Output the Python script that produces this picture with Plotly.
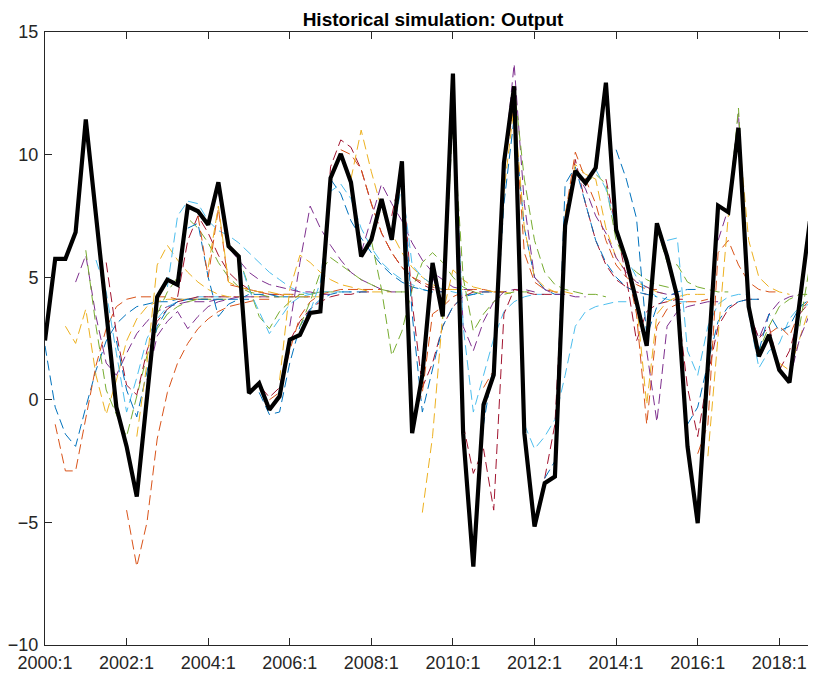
import plotly.graph_objects as go

# quarterly index: 0 = 2000:1, 1 = 2000:2, ...
tick_pos = [0, 8, 16, 24, 32, 40, 48, 56, 64, 72]
tick_txt = ["2000:1", "2002:1", "2004:1", "2006:1", "2008:1",
            "2010:1", "2012:1", "2014:1", "2016:1", "2018:1"]
y_ticks = [-10, -5, 0, 5, 10, 15]

# historical output (black line), 2000:1 .. 2019:1
output = [2.42, 5.75, 5.75, 6.83, 11.43, 7.6, 3.7, -0.3, -1.9, -3.95,
          0.1, 4.2, 4.9, 4.69, 7.89, 7.69, 7.14, 8.87, 6.26, 5.85,
          0.27, 0.68, -0.41, 0.14, 2.45, 2.65, 3.54, 3.6, 9.05, 10.03,
          8.87, 5.85, 6.53, 8.19, 6.53, 9.73, -1.36, 1.02, 5.58, 3.4,
          13.3, -1.36, -6.8, -0.2, 1.02, 9.66, 12.79, -1.36, -5.17, -3.4,
          -3.13, 7.1, 9.34, 8.84, 9.46, 12.93, 6.94, 5.7, 4.0, 2.2,
          7.2, 5.85, 4.2, -1.9, -5.03, 1.6, 7.92, 7.65, 11.09, 3.8,
          1.77, 2.65, 1.22, 0.71, 3.9, 7.28, 4.6]

# simulated paths, named by the quarter they start in
s00 = [2.2, -0.3, -1.4, -1.9, -0.3, 1.2, 2.4, 3.1, 3.5, 3.8, 3.9, 4.0, 4.0, 4.1, 4.1, 4.1]
s01 = [-1.0, -2.9, -2.9, -0.8, 1.4, 2.9, 3.8, 4.1, 4.2, 4.2, 4.2, 4.2, 4.1, 4.1, 4.1, 4.1]
s02 = [3.0, 2.3, 3.7, 1.0, -0.6, 0.8, 2.4, 3.3, 3.8, 4.0, 4.1, 4.1, 4.1, 4.1, 4.1]
s03 = [4.8, 5.9, 3.4, 1.5, 1.0, 1.9, 2.7, 3.2, 3.6, 3.8, 3.9, 4.0, 4.0, 4.0, 4.1]
s04 = [6.1, 3.0, 0.4, -0.6, -1.5, 0.2, 1.8, 2.9, 3.5, 3.8, 4.0, 4.1, 4.1, 4.1, 4.1]
s05 = [5.7, 4.4, 1.9, -0.5, 0.9, 2.5, 3.3, 3.8, 4.0, 4.1, 4.2, 4.2, 4.2, 4.2]
s06 = [5.6, 2.7, 0.6, 0.2, 2.0, 3.2, 3.7, 4.0, 4.1, 4.2, 4.2, 4.2, 4.2, 4.2]
s07 = [2.4, 0.4, -0.7, 1.2, 3.0, 3.7, 4.0, 4.1, 4.1, 4.1, 4.1, 4.1, 4.1, 4.1]
s08 = [-4.5, -6.8, -5.0, -1.6, 0.3, 1.5, 2.3, 2.9, 3.3, 3.6, 3.8, 3.9, 4.0, 4.1, 4.1]
s09 = [-1.5, 1.5, 5.5, 6.3, 5.7, 5.2, 4.8, 4.5, 4.3, 4.2, 4.2, 4.2, 4.2, 4.2]
s10 = [0.8, 2.6, 3.2, 3.6, 2.9, 3.4, 3.8, 4.0, 4.1, 4.2, 4.2, 4.2, 4.2, 4.2]
s11 = [3.5, 4.4, 5.0, 7.4, 7.0, 6.4, 5.6, 5.0, 4.6, 4.4, 4.3, 4.2, 4.2, 4.2]
s12 = [4.6, 7.5, 8.1, 8.0, 7.3, 6.9, 6.7, 6.4, 6.0, 5.6, 5.2, 4.9, 4.6, 4.4, 4.3]
s13 = [4.2, 6.5, 7.5, 6.8, 5.9, 5.2, 4.8, 4.5, 4.4, 4.3, 4.3, 4.3, 4.3]
s14 = [7.0, 7.2, 5.0, 3.4, 3.9, 4.1, 4.3, 4.3, 4.3, 4.2, 4.2, 4.2, 4.2]
s15 = [7.5, 5.0, 7.8, 4.7, 4.6, 4.5, 4.4, 4.3, 4.3, 4.2, 4.2, 4.2]
s16 = [5.4, 7.9, 4.8, 4.6, 4.5, 4.4, 4.4, 4.3, 4.3, 4.2, 4.2, 4.2]
s17 = [8.5, 6.2, 5.7, 5.2, 4.9, 4.7, 4.6, 4.5, 4.4, 4.4, 4.3, 4.3]
s18 = [6.3, 5.8, 4.6, 3.4, 2.9, 3.6, 4.0, 4.3, 4.3, 4.4, 4.4, 4.4]
s19 = [5.8, 4.5, 3.6, 2.7, 3.3, 3.9, 4.2, 4.3, 4.4, 4.4, 4.4, 4.4]
s20 = [0.4, 0.6, 0.1, 0.5, 2.4, 3.2, 3.7, 4.0, 4.2, 4.3, 4.3, 4.4, 4.4]
s21 = [0.3, -0.6, -0.5, 1.5, 3.0, 3.7, 4.1, 4.3, 4.4, 4.4, 4.4, 4.4]
s22 = [0.0, 0.3, 2.0, 3.4, 4.0, 4.3, 4.4, 4.5, 4.5, 4.5, 4.5, 4.5]
s23 = [0.8, 4.5, 5.9, 5.6, 5.2, 4.9, 4.7, 4.6, 4.5, 4.4, 4.4, 4.4]
s24 = [3.0, 5.6, 7.9, 7.0, 6.3, 5.7, 5.2, 4.9, 4.7, 4.5, 4.4, 4.4]
s25 = [3.0, 4.0, 5.2, 5.8, 5.5, 5.2, 4.9, 4.7, 4.5, 4.4, 4.4, 4.4]
s26 = [3.6, 4.8, 8.5, 8.8, 8.2, 7.0, 6.2, 5.6, 5.2, 4.9, 4.7, 4.5, 4.4]
s27 = [3.7, 9.5, 10.6, 10.3, 9.4, 8.0, 6.8, 6.0, 5.4, 5.0, 4.7, 4.5, 4.4]
s28 = [9.0, 8.4, 7.3, 6.6, 6.0, 5.5, 5.1, 4.8, 4.6, 4.5, 4.4, 4.4]
s29 = [10.2, 10.0, 9.4, 8.0, 6.8, 6.0, 5.4, 5.0, 4.8, 4.6, 4.5, 4.5]
s30 = [9.0, 11.0, 9.3, 7.8, 6.8, 6.0, 5.4, 5.0, 4.7, 4.5, 4.5, 4.5]
s31 = [6.0, 7.4, 8.8, 8.0, 7.3, 6.4, 5.7, 5.2, 4.9, 4.6, 4.5, 4.5]
s32 = [6.5, 4.5, 1.8, 2.8, 4.5, 5.6, 6.0, 5.6, 5.0, 4.6, 4.4, 4.3]
s33 = [8.0, 6.5, 8.8, 5.5, 5.0, 4.7, 4.5, 4.4, 4.3, 4.3, 4.3]
s34 = [7.5, 9.5, 4.0, 0.5, 1.5, 3.0, 3.8, 4.2, 4.4, 4.4, 4.4, 4.4]
s35 = [9.5, 3.5, -0.5, 1.2, 3.0, 3.8, 4.2, 4.3, 4.4, 4.4, 4.4]
s36 = [-0.8, 0.3, 3.5, 3.8, 4.2, 4.4, 4.5, 4.5, 4.4, 4.4]
s37 = [-4.6, -1.5, 3.5, 5.3, 4.9, 4.6, 4.5, 4.4, 4.4, 4.3]
s38 = [5.0, 4.0, 12.5, 3.0, 2.0, 3.2, 4.0, 4.4, 4.5, 4.5, 4.4]
s39 = [3.3, 11.5, 5.0, 2.8, 3.5, 4.0, 4.3, 4.4, 4.4, 4.4]
s40 = [12.0, 3.0, -0.5, 1.0, 2.5, 3.6, 4.0, 4.2, 4.3, 4.3]
s41 = [-1.0, -3.0, -2.0, -4.5, 3.5, 4.5, 4.4, 4.3, 4.3, 4.3]
s42 = [-6.0, -1.0, 1.5, 8.0, 11.5, 7.0, 5.0, 4.5, 4.3, 4.3]
s43 = [0.5, 1.2, 9.5, 12.0, 6.0, 4.8, 4.5, 4.4, 4.3]
s44 = [1.5, 8.5, 12.0, 7.0, 5.0, 4.6, 4.4, 4.4, 4.3]
s45 = [9.5, 13.7, 8.0, 5.0, 4.5, 4.3, 4.3, 4.2, 4.2]
s46 = [12.8, 9.0, 6.5, 5.2, 4.7, 4.5, 4.4, 4.3, 4.3, 4.2]
s47 = [-1.0, -2.0, -1.5, -0.8, 1.0, 3.0, 3.6, 3.8, 3.9, 4.0, 4.0]
s48 = [-5.0, -3.2, -1.0, 7.0, 9.8, 8.0, 6.5, 5.5, 4.9, 4.6, 4.4, 4.3]
s49 = [-3.2, -2.5, 8.8, 9.5, 8.0, 6.5, 5.6, 5.0, 4.6, 4.4, 4.3, 4.2]
s50 = [-2.8, 7.5, 10.1, 9.0, 8.0, 6.5, 5.5, 5.0, 4.7, 4.5, 4.5]
s51 = [7.5, 9.6, 9.2, 9.0, 7.0, 5.8, 5.2, 4.8, 4.6, 4.4, 4.3]
s52 = [9.3, 8.6, 7.5, 6.8, 5.8, 5.2, 4.8, 4.6, 4.4, 4.3, 4.3]
s53 = [8.8, 9.2, 8.8, 6.5, 5.6, 5.2, 4.9, 4.7, 4.6, 4.5]
s54 = [9.4, 8.6, 7.0, 5.8, 5.0, 4.5, 4.2, 4.1, 4.0, 4.0]
s55 = [9.0, 7.0, 5.0, 2.4, 3.6, 3.9, 4.0, 4.1, 4.1]
s56 = [10.2, 9.0, 7.4, 2.6, 3.8, 4.2, 4.4, 4.5, 4.5]
s57 = [5.5, 3.5, -1.0, 3.0, 3.7, 3.9, 4.0, 4.0, 4.1]
s58 = [4.0, -0.2, 3.5, 4.0, 4.2, 4.3, 4.3, 4.3]
s59 = [2.0, -0.9, 3.0, 3.6, 3.8, 3.9, 4.0, 4.0]
s60 = [7.0, 5.6, 5.5, 4.8, 4.6, 4.5, 4.4, 4.4]
s61 = [6.5, 6.6, 2.0, 1.0, 3.0, 3.9, 4.2, 4.3, 4.3]
s62 = [4.0, 0.5, -1.5, 1.0, 3.0, 3.7, 4.0, 4.1, 4.1]
s63 = [-1.0, -0.3, 1.5, 3.2, 3.8, 4.0, 4.1, 4.1]
s64 = [-2.2, -1.0, 6.0, 6.5, 5.5, 4.8, 4.5, 4.4, 4.4]
s65 = [-2.3, 2.5, 7.5, 11.0, 6.5, 5.0, 4.6, 4.4, 4.3]
s66 = [6.5, 7.8, 11.7, 3.6, 2.5, 3.5, 4.0, 4.2, 4.3]
s67 = [7.6, 11.9, 4.0, 2.0, 3.0, 3.8, 4.1, 4.3, 4.3]
s68 = [11.0, 3.5, 1.3, 2.0, 2.3, 3.3, 3.8, 3.9, 4.0]
s69 = [3.6, 2.5, 3.0, 1.2, 2.0, 3.5, 4.0, 4.1]
s70 = [2.0, 3.5, 2.8, 3.0, 3.8, 4.1, 4.2]
s71 = [2.7, 3.0, 2.6, 3.6, 4.1, 4.3]
s72 = [1.5, 1.2, 2.5, 3.8, 4.1]
s73 = [0.8, 2.5, 3.5, 4.0]
s74 = [3.0, 5.5, 4.6]

sims = [s00, s01, s02, s03, s04, s05, s06, s07, s08, s09,
        s10, s11, s12, s13, s14, s15, s16, s17, s18, s19,
        s20, s21, s22, s23, s24, s25, s26, s27, s28, s29,
        s30, s31, s32, s33, s34, s35, s36, s37, s38, s39,
        s40, s41, s42, s43, s44, s45, s46, s47, s48, s49,
        s50, s51, s52, s53, s54, s55, s56, s57, s58, s59,
        s60, s61, s62, s63, s64, s65, s66, s67, s68, s69,
        s70, s71, s72, s73, s74]

# matlab default color order
colors = ["#0072BD", "#D95319", "#EDB120", "#7E2F8E",
          "#77AC30", "#4DBEEE", "#A2142F"]

fig = go.Figure()

for start, path in enumerate(sims):
    fig.add_trace(
        go.Scatter(
            x=list(range(start, start + len(path))),
            y=path,
            mode="lines",
            line=dict(color=colors[start % 7], width=1, dash="10px,5px"),
            hoverinfo="skip",
        )
    )

fig.add_trace(
    go.Scatter(
        x=list(range(len(output))),
        y=output,
        mode="lines",
        line=dict(color="black", width=4.2),
        name="Output",
    )
)

axis_style = dict(
    showgrid=False,
    zeroline=False,
    showline=True,
    linecolor="#262626",
    linewidth=1,
    mirror="ticks",
    ticks="inside",
    ticklen=7,
    tickwidth=1,
    tickcolor="#262626",
    tickfont=dict(family="Liberation Sans, Arial", size=18, color="#262626"),
)

# the page body has an 8px margin, so the figure is 8px smaller
fig.update_layout(
    width=808,
    height=669,
    margin=dict(l=37, r=0, t=24, b=32),
    paper_bgcolor="white",
    plot_bgcolor="white",
    showlegend=False,
    title=dict(
        text="<b>Historical simulation: Output</b>",
        x=(433 - 8) / 808,
        xanchor="center",
        y=1 - 11 / 669,
        yanchor="middle",
        font=dict(family="Liberation Sans, Arial", size=19, color="black"),
    ),
    xaxis=dict(
        range=[0, 75.6],
        tickvals=tick_pos,
        ticktext=tick_txt,
        ticklabelstandoff=1,
        **axis_style,
    ),
    yaxis=dict(
        range=[-10, 15],
        tickvals=y_ticks,
        ticklabelstandoff=2,
        **axis_style,
    ),
)

fig.write_html("out.html")
